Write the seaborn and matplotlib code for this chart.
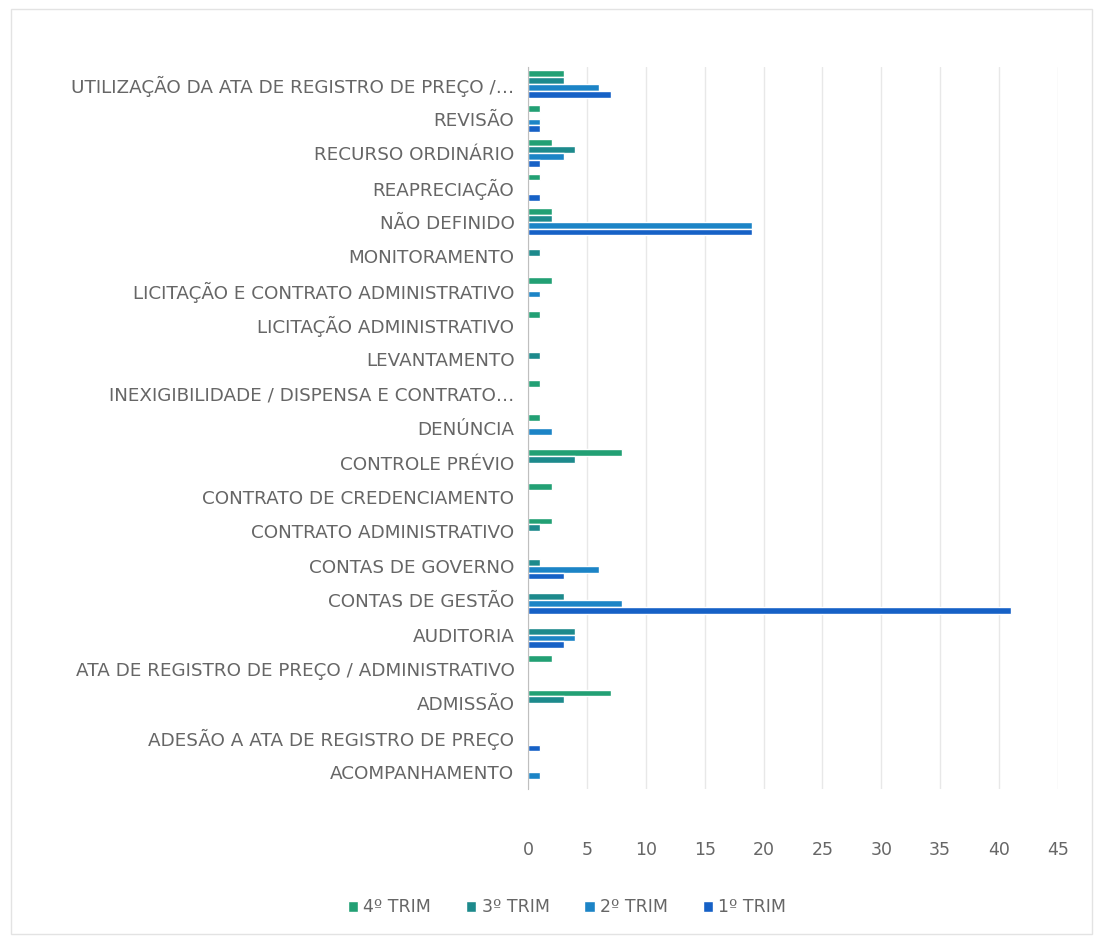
import matplotlib
matplotlib.use("Agg")
import matplotlib.pyplot as plt
import seaborn as sns
import pandas as pd
from matplotlib.patches import Rectangle

categories = [
    "UTILIZAÇÃO DA ATA DE REGISTRO DE PREÇO /…",
    "REVISÃO",
    "RECURSO ORDINÁRIO",
    "REAPRECIAÇÃO",
    "NÃO DEFINIDO",
    "MONITORAMENTO",
    "LICITAÇÃO E CONTRATO ADMINISTRATIVO",
    "LICITAÇÃO ADMINISTRATIVO",
    "LEVANTAMENTO",
    "INEXIGIBILIDADE / DISPENSA E CONTRATO…",
    "DENÚNCIA",
    "CONTROLE PRÉVIO",
    "CONTRATO DE CREDENCIAMENTO",
    "CONTRATO ADMINISTRATIVO",
    "CONTAS DE GOVERNO",
    "CONTAS DE GESTÃO",
    "AUDITORIA",
    "ATA DE REGISTRO DE PREÇO / ADMINISTRATIVO",
    "ADMISSÃO",
    "ADESÃO A ATA DE REGISTRO DE PREÇO",
    "ACOMPANHAMENTO",
]
trim4 = [3, 1, 2, 1, 2, 0, 2, 1, 0, 1, 1, 8, 2, 2, 0, 0, 0, 2, 7, 0, 0]
trim3 = [3, 0, 4, 0, 2, 1, 0, 0, 1, 0, 0, 4, 0, 1, 1, 3, 4, 0, 3, 0, 0]
trim2 = [6, 1, 3, 0, 19, 0, 1, 0, 0, 0, 2, 0, 0, 0, 6, 8, 4, 0, 0, 0, 1]
trim1 = [7, 1, 1, 1, 19, 0, 0, 0, 0, 0, 0, 0, 0, 0, 3, 41, 3, 0, 0, 1, 0]
series_names = ["4º TRIM", "3º TRIM", "2º TRIM", "1º TRIM"]
colors = ["#22a074", "#1d8a8c", "#1c84c6", "#1661c6"]

rows = []
for name, vals in zip(series_names, [trim4, trim3, trim2, trim1]):
    for cat, v in zip(categories, vals):
        rows.append({"categoria": cat, "trimestre": name, "qtd": v})
df = pd.DataFrame(rows)

sns.set_style("white")
plt.rcParams["font.family"] = ["DejaVu Sans"]

fig = plt.figure(figsize=(11.03, 9.43), dpi=100)
ax = fig.add_axes([0.479, 0.163, 0.48, 0.766])

sns.barplot(data=df, y="categoria", x="qtd", hue="trimestre",
            order=categories, hue_order=series_names, palette=colors,
            orient="h", width=0.8, saturation=1, ax=ax)

ax.set_xlim(0, 45)
ax.set_xticks(range(0, 46, 5))
ax.set_xlabel("")
ax.set_ylabel("")
ax.grid(axis="x", color="#e8e8e8", linewidth=1)
ax.set_axisbelow(True)
for s in ["top", "right", "bottom"]:
    ax.spines[s].set_visible(False)
ax.spines["left"].set_color("#bfbfbf")
ax.tick_params(axis="y", length=0, pad=10, labelsize=13.2, labelcolor="#666666")
ax.tick_params(axis="x", length=0, pad=37, labelsize=12.5, labelcolor="#666666")

handles, labels = ax.get_legend_handles_labels()
ax.legend_.remove()
fig.legend(handles, labels, loc="center", bbox_to_anchor=(0.514, 0.038),
           ncol=4, frameon=False, fontsize=12.5, handlelength=0.6,
           handleheight=0.6, columnspacing=2.0, handletextpad=0.3,
           labelcolor="#666666")

fig.patches.append(Rectangle((0.01, 0.01), 0.98, 0.98, transform=fig.transFigure,
                             fill=False, edgecolor="#e3e3e3", linewidth=1))

fig.savefig("out.png", dpi=100, facecolor="white")
